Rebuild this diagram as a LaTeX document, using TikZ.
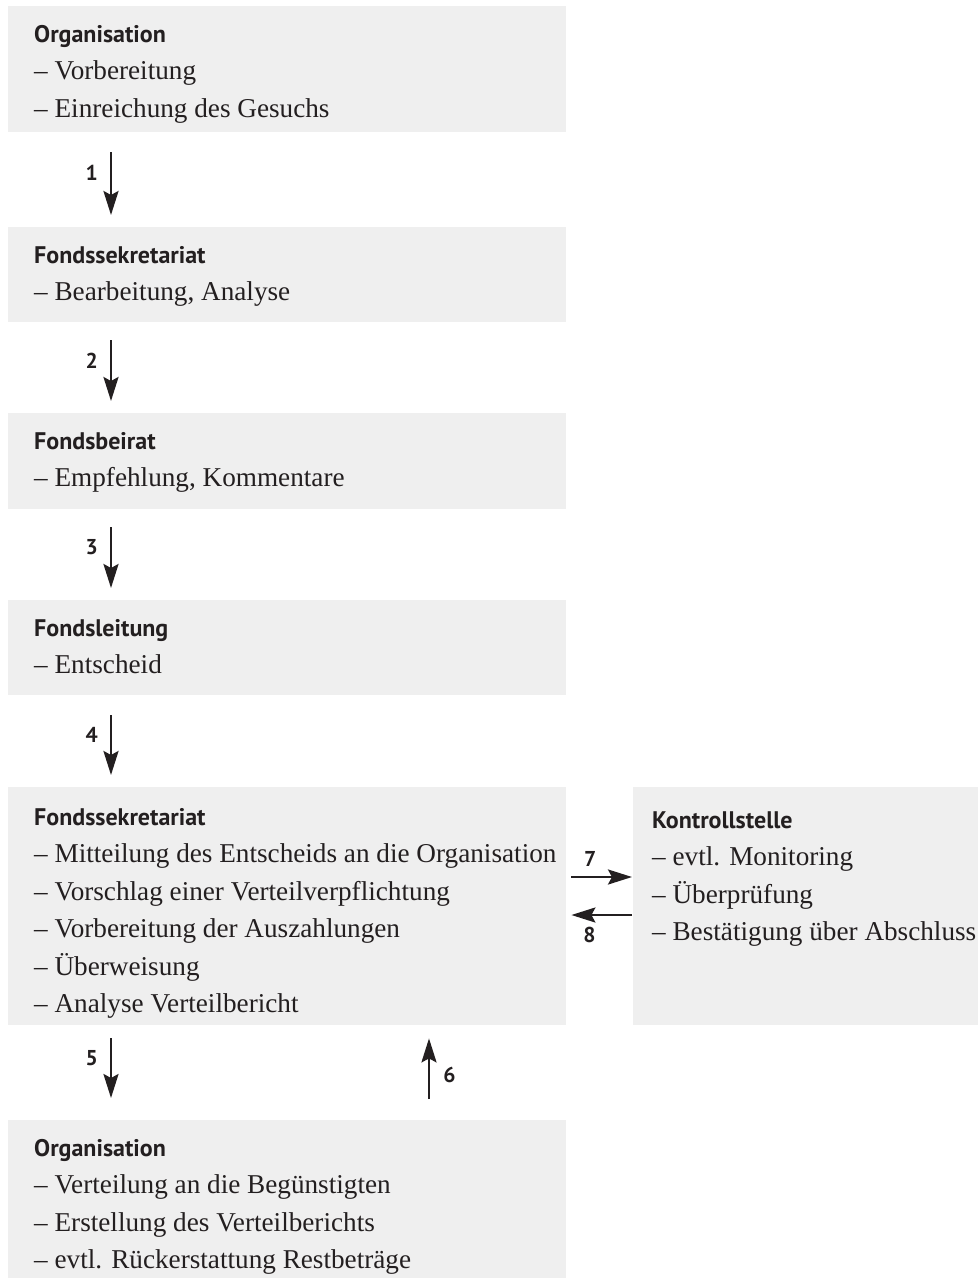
\documentclass[tikz,border=0pt]{standalone}
\usepackage{fontspec}
\setmainfont{Liberation Serif}
\newfontfamily\headfont{PT Sans}
\usetikzlibrary{arrows.meta}

\definecolor{boxgray}{RGB}{239,239,239}
\definecolor{ink}{RGB}{35,31,32}

\tikzset{
  box/.style={fill=boxgray, draw=none, anchor=north west, inner sep=0pt, minimum width=558pt},
  boxtxt/.style={anchor=north west, align=left, inner sep=0pt, text=ink, font=\fontsize{27.2}{37.5}\selectfont},
  numlab/.style={font=\headfont\bfseries\fontsize{21.5}{21.5}\selectfont, text=ink, inner sep=0pt},
  flow/.style={-{Stealth[length=24pt,width=15pt,inset=4pt]}, line width=2.5pt, draw=ink}
}
\newcommand{\hd}[1]{{\headfont\bfseries\fontsize{24}{37.5}\selectfont #1}}

\begin{document}
\begin{tikzpicture}[x=1pt,y=-1pt]

\useasboundingbox (0,0) rectangle (978,1278);

% Kaesten
\node[box, minimum height=126pt] (org1)    at (8,6)    {};
\node[box, minimum height=95pt]  (sek1)    at (8,227)  {};
\node[box, minimum height=96pt]  (beirat)  at (8,413)  {};
\node[box, minimum height=95pt]  (leitung) at (8,600)  {};
\node[box, minimum height=238pt] (sek2)    at (8,787)  {};
\node[box, minimum height=238pt, minimum width=345pt] (kontrolle) at (633,787) {};
\node[box, minimum height=158pt] (org2)    at (8,1120) {};

% Texte
\node[boxtxt] (org1txt) at ([xshift=26pt,yshift=-19pt]org1.north west)
  {\hd{Organisation}\\– Vorbereitung\\– Einreichung des Gesuchs};
\node[boxtxt] (sek1txt) at ([xshift=26pt,yshift=-19pt]sek1.north west)
  {\hd{Fondssekretariat}\\– Bearbeitung, Analyse};
\node[boxtxt] (beirattxt) at ([xshift=26pt,yshift=-19pt]beirat.north west)
  {\hd{Fondsbeirat}\\– Empfehlung, Kommentare};
\node[boxtxt] (leitungtxt) at ([xshift=26pt,yshift=-19pt]leitung.north west)
  {\hd{Fondsleitung}\\– Entscheid};
\node[boxtxt] (sek2txt) at ([xshift=26pt,yshift=-21pt]sek2.north west)
  {\hd{Fondssekretariat}\\– Mitteilung des Entscheids an die Organisation\\– Vorschlag einer Verteilverpflichtung\\– Vorbereitung der Auszahlungen\\– Überweisung\\– Analyse Verteilbericht};
\node[boxtxt] (kontrolletxt) at ([xshift=19pt,yshift=-24pt]kontrolle.north west)
  {\hd{Kontrollstelle}\\– evtl. Monitoring\\– Überprüfung\\– Bestätigung über Abschluss};
\node[boxtxt] (org2txt) at ([xshift=26pt,yshift=-19pt]org2.north west)
  {\hd{Organisation}\\– Verteilung an die Begünstigten\\– Erstellung des Verteilberichts\\– evtl. Rückerstattung Restbeträge};

% Pfeile 1-4
\draw[flow] ([xshift=103pt,yshift=-20pt]org1.south west)
  -- node[numlab, pos=0.33, left=12pt] (n1) {1} ([xshift=103pt,yshift=12pt]sek1.north west);
\draw[flow] ([xshift=103pt,yshift=-18pt]sek1.south west)
  -- node[numlab, pos=0.33, left=12pt] (n2) {2} ([xshift=103pt,yshift=12pt]beirat.north west);
\draw[flow] ([xshift=103pt,yshift=-18pt]beirat.south west)
  -- node[numlab, pos=0.33, left=12pt] (n3) {3} ([xshift=103pt,yshift=12pt]leitung.north west);
\draw[flow] ([xshift=103pt,yshift=-20pt]leitung.south west)
  -- node[numlab, pos=0.33, left=12pt] (n4) {4} ([xshift=103pt,yshift=12pt]sek2.north west);

% Pfeile 5 und 6
\draw[flow] ([xshift=103pt,yshift=-13pt]sek2.south west)
  -- node[numlab, pos=0.33, left=12pt] (n5) {5} ([xshift=103pt,yshift=22pt]org2.north west);
\draw[flow] ([xshift=421pt,yshift=21pt]org2.north west)
  -- node[numlab, pos=0.4, right=13pt] (n6) {6} ([xshift=421pt,yshift=-13pt]sek2.south west);

% Pfeile 7 und 8
\draw[flow] ([xshift=5pt,yshift=-90pt]sek2.north east)
  -- node[numlab, pos=0.31, above=9pt] (n7) {7} ([xshift=-1pt,yshift=-90pt]kontrolle.north west);
\draw[flow] ([xshift=-1pt,yshift=-128pt]kontrolle.north west)
  -- node[numlab, pos=0.7, below=11pt] (n8) {8} ([xshift=5pt,yshift=-128pt]sek2.north east);

\end{tikzpicture}
\end{document}
